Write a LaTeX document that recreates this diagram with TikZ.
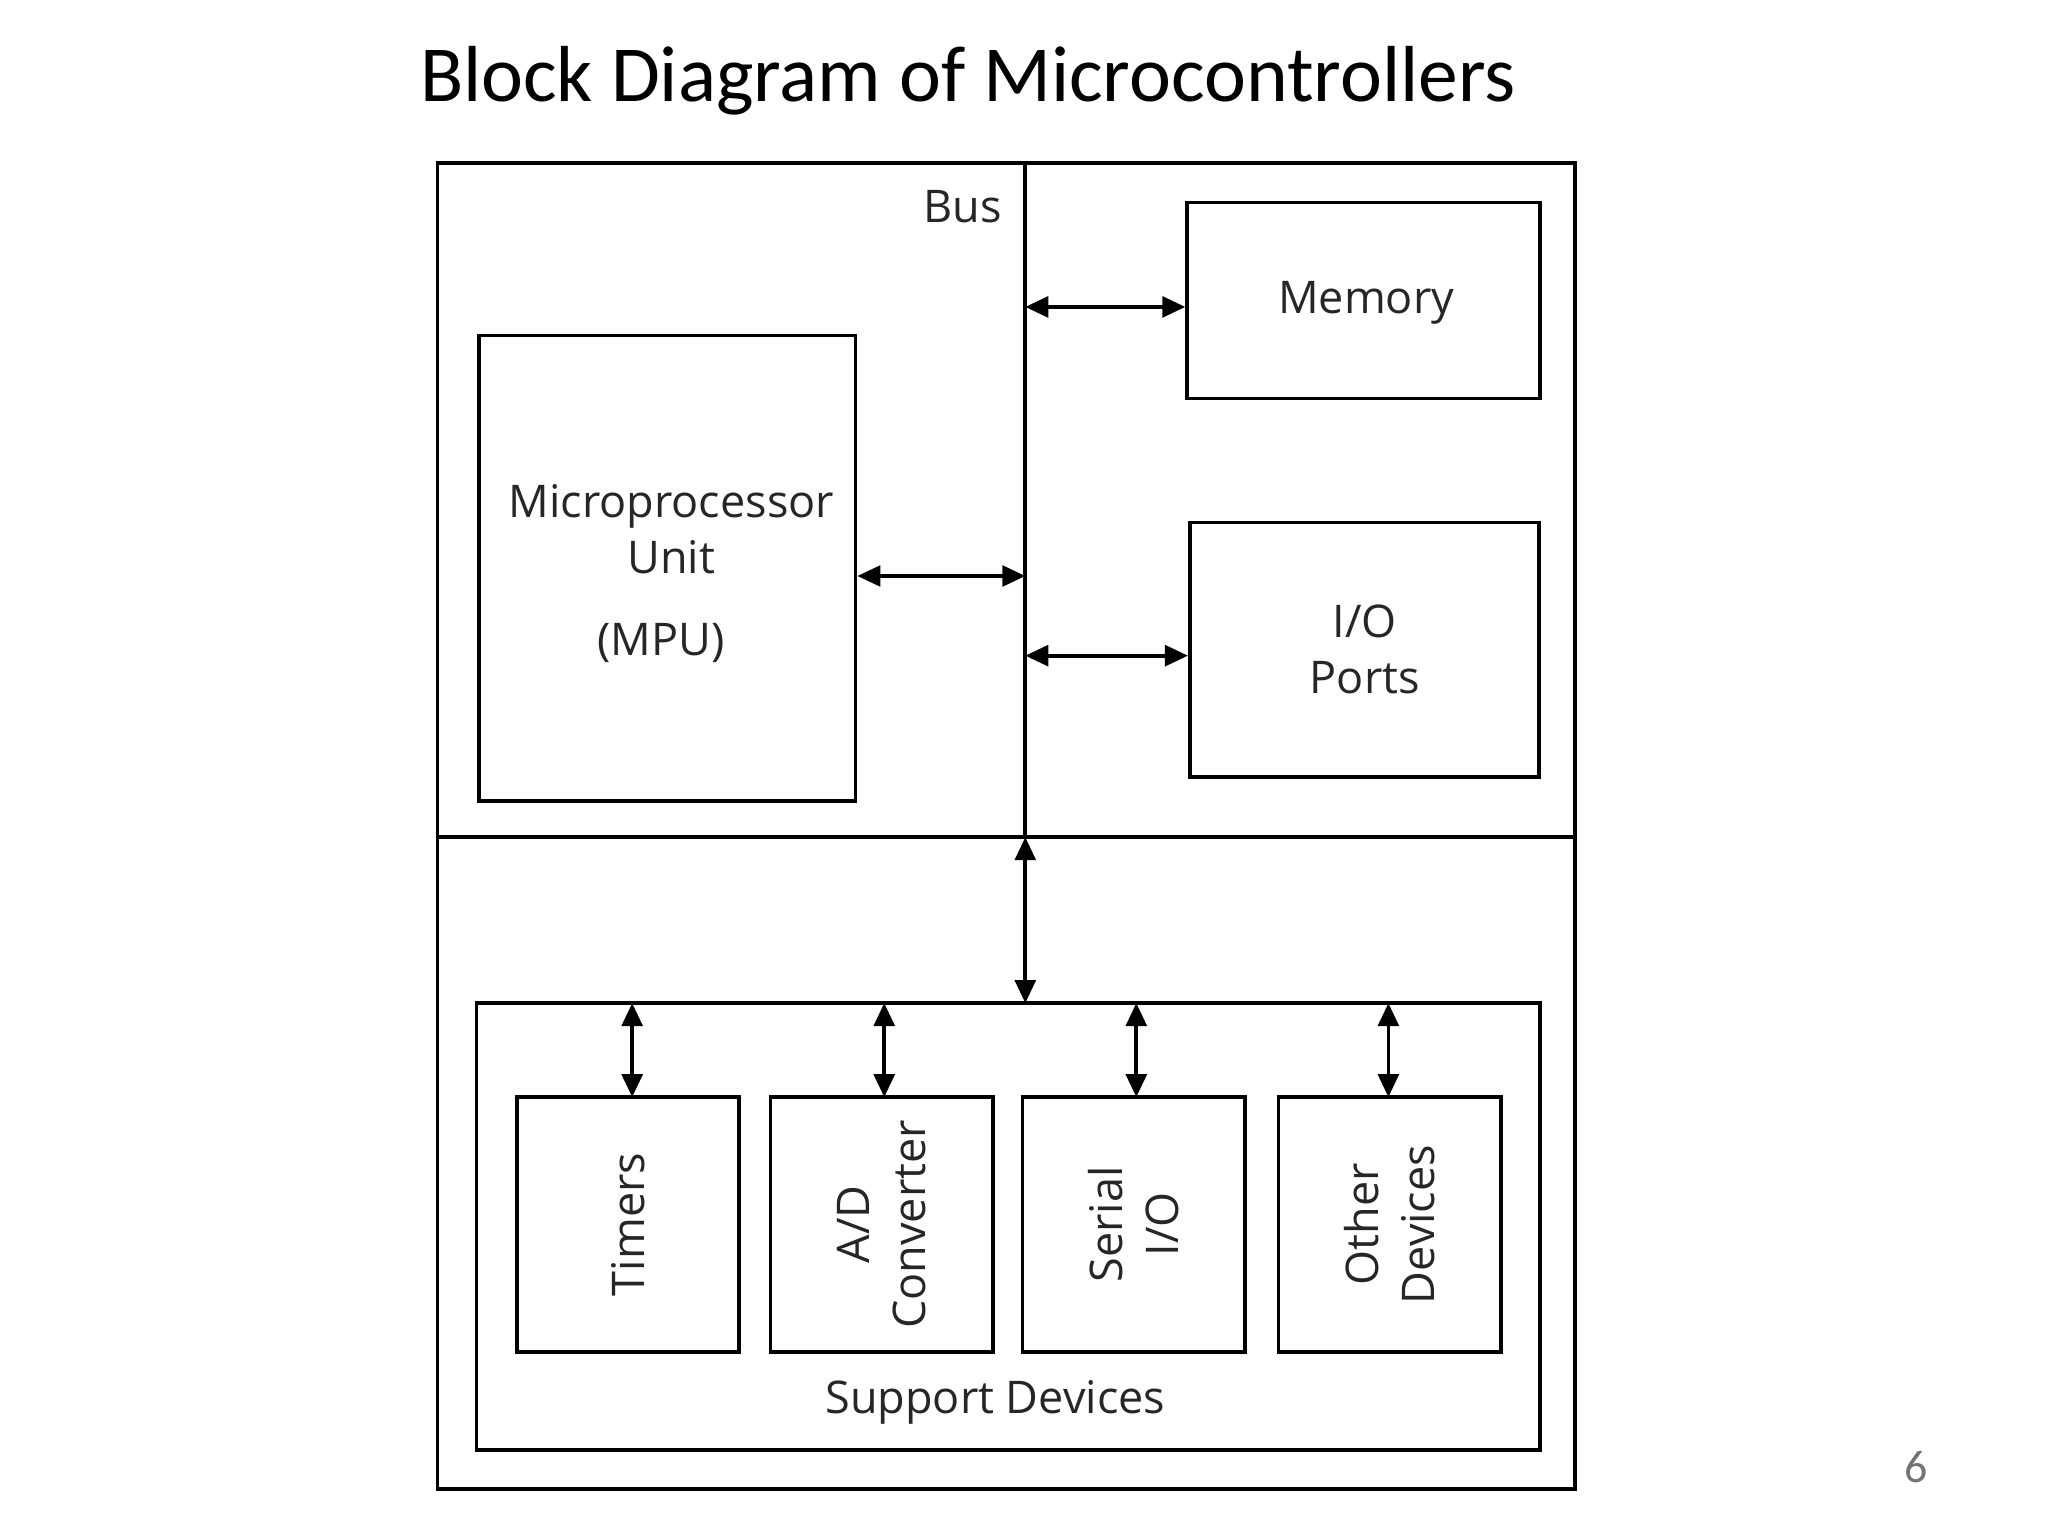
\documentclass[tikz,border=0pt]{standalone}
\usepackage{fontspec}
\setmainfont{Open Sans}
\newfontfamily\titlefont{Carlito}
\usetikzlibrary{arrows.meta}
\begin{document}
\begin{tikzpicture}[x=0.01cm,y=-0.01cm,
  box/.style={draw,line width=0.8pt,inner sep=0pt},
  lbl/.style={font=\fontsize{9.8}{12.2}\selectfont,align=center,text=black!85},
  con/.style={line width=0.8pt,{Triangle[length=5pt,width=4.5pt]}-{Triangle[length=5pt,width=4.5pt]}}]
\useasboundingbox (0,0) rectangle (1568,1176);
\node[font=\titlefont\fontsize{17.3}{20}\selectfont] (title) at (741,62) {Block Diagram of Microcontrollers};
\draw[box] (335,125) rectangle (1206,1140);
\draw[line width=0.8pt] (335,641) -- (1206,641);
\coordinate (bt) at (785,125);
\coordinate (bb) at (785,641);
\draw[line width=0.8pt] (bt) -- (bb);
\node[lbl] (bus) at (737,158) {Bus};
\node[box,minimum width=2.70cm,minimum height=1.50cm] (mem) at (1044,230) {};
\node[lbl] at (1046,232) {Memory};
\node[box,minimum width=2.67cm,minimum height=1.95cm] (io) at (1044.5,497.5) {};
\node[lbl,align=center] at (1045,497) {I/O\\Ports};
\node[box,minimum width=2.88cm,minimum height=3.56cm] (mpu) at (511,435) {};
\node[lbl] (mput) at (514,405) {Microprocessor\\Unit};
\node[lbl] (mpu2) at (506,492) {(MPU)};
\coordinate (a1) at (785,235);
\coordinate (a2) at (785,502);
\coordinate (a3) at (785,441);
\draw[con] (a1) -- (mem.west |- a1);
\draw[con] (a2) -- (io.west |- a2);
\draw[con] (mpu.east |- a3) -- (a3);
\node[box,minimum width=8.14cm,minimum height=3.42cm] (sup) at (772,939) {};
\node[lbl] (supt) at (762,1074) {Support Devices};
\draw[con] (bb) -- (785,768);
\foreach \x/\n/\t in {481/t/Timers,675/ad/{A/D\\Converter},868/s/{Serial\\I/O},1064/o/{Other\\Devices}}{
  \node[box,minimum width=1.70cm,minimum height=1.95cm] (\n) at (\x,937.5) {};
  \node[lbl,rotate=90] at (\n) {\t};
}
\foreach \n/\x in {t/484,ad/677,s/870,o/1063}{
  \draw[con] (\x,768) -- (\x,840);
}
\node[text=black!55,font=\titlefont\fontsize{10}{12}\selectfont] (pg) at (1467,1123) {6};
\end{tikzpicture}
\end{document}
